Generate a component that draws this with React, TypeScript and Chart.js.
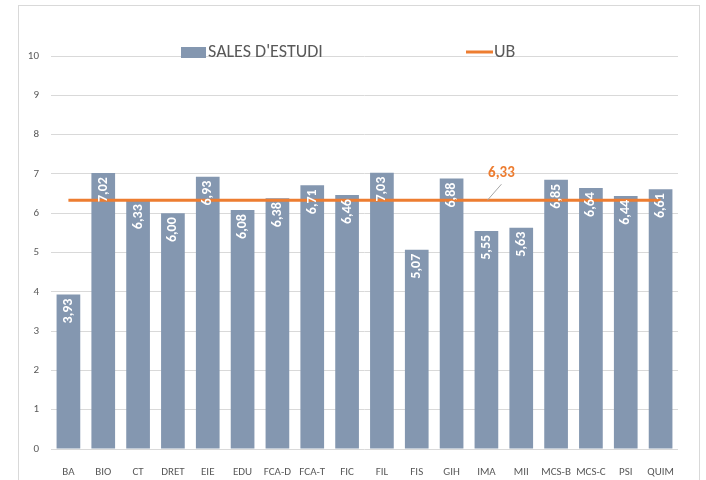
import React, { useEffect, useRef } from "react";
import { Chart, registerables } from "chart.js";

Chart.register(...registerables);

const categories = ["BA", "BIO", "CT", "DRET", "EIE", "EDU", "FCA-D", "FCA-T", "FIC", "FIL", "FIS", "GIH", "IMA", "MII", "MCS-B", "MCS-C", "PSI", "QUIM"];
const salesValues = [3.93, 7.02, 6.33, 6.0, 6.93, 6.08, 6.38, 6.71, 6.46, 7.03, 5.07, 6.88, 5.55, 5.63, 6.85, 6.64, 6.44, 6.61];
const ubValues = [6.33, 6.33, 6.33, 6.33, 6.33, 6.33, 6.33, 6.33, 6.33, 6.33, 6.33, 6.33, 6.33, 6.33, 6.33, 6.33, 6.33, 6.33];
const yTicks = [0, 1, 2, 3, 4, 5, 6, 7, 8, 9, 10];
const seriesNames = ["SALES D'ESTUDI", "UB"];
const ubLabelIndex = 12;

const BAR = "#8497B0";
const ORANGE = "#ED7D31";
const TEXT = "#595959";
const GRID = "#D9D9D9";
const FONT = "Calibri, Carlito, 'Liberation Sans', Arial, sans-serif";

const fmt = (v: number) => v.toFixed(2).replace(".", ",");

const decorPlugin = {
  id: "decor",
  beforeDraw(chart: any) {
    const ctx = chart.ctx;
    ctx.save();
    ctx.strokeStyle = GRID;
    ctx.lineWidth = 1;
    ctx.strokeRect(18.5, 5.5, 681, 500);
    ctx.restore();
  },
  afterDatasetsDraw(chart: any) {
    const ctx = chart.ctx;
    // bar value labels
    const barMeta = chart.getDatasetMeta(0);
    ctx.save();
    ctx.fillStyle = "#FFFFFF";
    ctx.font = `bold 14px ${FONT}`;
    ctx.textAlign = "right";
    ctx.textBaseline = "middle";
    barMeta.data.forEach((el: any, i: number) => {
      ctx.save();
      ctx.translate(el.x, el.y + 4);
      ctx.rotate(-Math.PI / 2);
      ctx.fillText(fmt(salesValues[i]), 0, 0);
      ctx.restore();
    });
    ctx.restore();

    // UB label with leader line
    const lineMeta = chart.getDatasetMeta(1);
    const pt = lineMeta.data[ubLabelIndex];
    if (pt) {
      ctx.save();
      ctx.strokeStyle = "#A6A6A6";
      ctx.lineWidth = 1;
      ctx.beginPath();
      ctx.moveTo(pt.x + 1, pt.y);
      ctx.lineTo(pt.x + 15, pt.y - 16);
      ctx.stroke();
      ctx.fillStyle = ORANGE;
      ctx.font = `bold 15px ${FONT}`;
      ctx.textAlign = "center";
      ctx.textBaseline = "middle";
      ctx.fillText(fmt(ubValues[ubLabelIndex]), pt.x + 15, pt.y - 27);
      ctx.restore();
    }

    // legend
    ctx.save();
    ctx.fillStyle = BAR;
    ctx.fillRect(181, 47, 25, 11);
    ctx.fillStyle = TEXT;
    ctx.font = `18px ${FONT}`;
    ctx.textAlign = "left";
    ctx.textBaseline = "middle";
    ctx.fillText(seriesNames[0], 208, 52.5);
    ctx.strokeStyle = ORANGE;
    ctx.lineWidth = 3;
    ctx.beginPath();
    ctx.moveTo(466, 52);
    ctx.lineTo(493, 52);
    ctx.stroke();
    ctx.fillText(seriesNames[1], 494, 52.5);
    ctx.restore();
  },
};

export default function App() {
  const ref = useRef<HTMLCanvasElement>(null);
  useEffect(() => {
    document.body.style.margin = "0";
    const chart = new Chart(ref.current as HTMLCanvasElement, {
      type: "bar",
      data: {
        labels: categories,
        datasets: [
          {
            type: "bar",
            label: seriesNames[0],
            data: salesValues,
            backgroundColor: BAR,
            borderWidth: 0,
            barPercentage: 0.68,
            categoryPercentage: 1,
            order: 2,
          },
          {
            type: "line",
            label: seriesNames[1],
            data: ubValues,
            borderColor: ORANGE,
            backgroundColor: ORANGE,
            borderWidth: 3,
            pointRadius: 0,
            tension: 0,
            order: 1,
          } as any,
        ],
      },
      options: {
        responsive: false,
        animation: false,
        layout: { padding: { top: 56, right: 28, left: 0, bottom: 0 } },
        plugins: {
          legend: { display: false },
          tooltip: { enabled: false },
          title: { display: false },
        },
        scales: {
          x: {
            offset: true,
            grid: { display: false },
            border: { display: false },
            ticks: { color: TEXT, font: { family: FONT, size: 11 }, padding: 9, maxRotation: 0, autoSkip: false },
            afterFit(scale: any) {
              scale.height = 31;
            },
          },
          y: {
            min: 0,
            max: 10,
            afterBuildTicks(scale: any) {
              scale.ticks = yTicks.map((v) => ({ value: v }));
            },
            grid: { color: GRID, lineWidth: 1, drawTicks: false },
            border: { display: false },
            ticks: { color: TEXT, font: { family: FONT, size: 11 }, padding: 12 },
            afterFit(scale: any) {
              scale.width = 51;
            },
          },
        },
      },
      plugins: [decorPlugin],
    });
    return () => chart.destroy();
  }, []);
  return (
    <div style={{ position: "absolute", left: 0, top: 0, width: 706, height: 480 }}>
      <canvas ref={ref} width={706} height={480} style={{ display: "block" }} />
    </div>
  );
}
